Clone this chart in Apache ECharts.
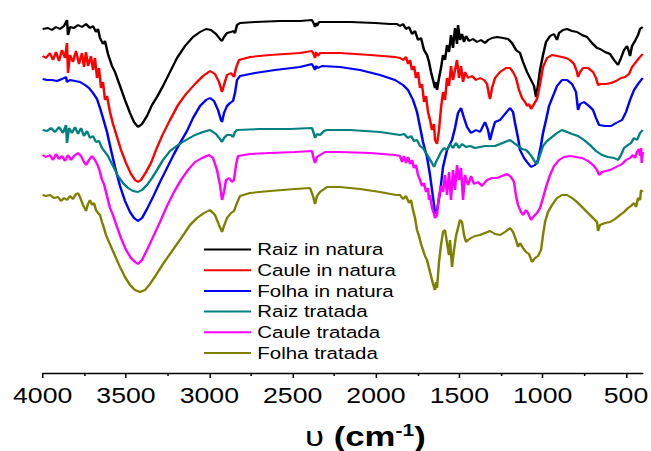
<!DOCTYPE html>
<html>
<head>
<meta charset="utf-8">
<script src="https://cdn.jsdelivr.net/npm/echarts@6/dist/echarts.min.js"></script>
<style>
  html, body { margin: 0; padding: 0; background: #fff; overflow: hidden; }
  /* the figure is drawn at a narrower width and stretched horizontally */
  #chart { width: 525px; height: 451px; transform: scaleX(1.24); transform-origin: 0 0; }
</style>
</head>
<body>
<div id="chart"></div>
<script>
// FTIR spectra: [wavenumber (cm-1), transmittance (a.u., offset per sample)]
const seriesNames = ['Raiz in natura', 'Caule in natura', 'Folha in natura', 'Raiz tratada', 'Caule tratada', 'Folha tratada'];
const seriesColors = ['#000000', '#ff0000', '#0000ff', '#008080', '#ff00ff', '#808000'];
const majorTicks = [4000, 3500, 3000, 2500, 2000, 1500, 1000, 500];
const minorTicks = [3750, 3250, 2750, 2250, 1750, 1250, 750];

const raizNatura = [
  [4000,344],[3968,345],[3944,343],[3920,346],[3896,344],[3872,347],[3854,353],[3848,338],[3836,346],[3812,345],
  [3788,348],[3764,346],[3740,349],[3716,345],[3698,347],[3680,341],[3668,344],[3656,335],[3638,329],[3626,332],
  [3608,319],[3596,313],[3584,307],[3566,301],[3536,287],[3506,273],[3476,260],[3452,251],[3428,246],[3404,249],
  [3374,257],[3344,268],[3314,276],[3278,287],[3236,301],[3194,315],[3146,327],[3098,336],[3056,341],[3020,344],
  [2990,343],[2960,339],[2936,334],[2924,332],[2912,336],[2894,340],[2870,341],[2858,342],[2846,340],[2834,348],
  [2816,350],[2726,351],[2576,352],[2456,352],[2384,353],[2372,349],[2366,346],[2360,350],[2354,347],[2342,351],
  [2276,351],[2156,351],[2006,350],[1916,349],[1874,349],[1856,347],[1838,349],[1820,344],[1802,346],[1784,339],
  [1766,342],[1748,333],[1730,335],[1712,323],[1694,318],[1682,311],[1670,301],[1658,293],[1646,285],[1640,291],
  [1634,283],[1622,295],[1610,305],[1598,318],[1586,313],[1574,328],[1562,321],[1550,338],[1538,325],[1526,345],
  [1514,329],[1508,348],[1496,333],[1484,339],[1472,331],[1460,337],[1442,332],[1418,334],[1394,331],[1370,333],
  [1346,330],[1328,333],[1304,335],[1274,336],[1238,335],[1208,334],[1184,330],[1160,323],[1136,320],[1118,311],
  [1094,301],[1070,293],[1052,287],[1040,276],[1028,288],[1016,303],[998,318],[980,331],[956,337],[932,339],
  [914,333],[902,340],[878,343],[854,344],[824,342],[794,341],[764,338],[734,336],[704,330],[674,325],
  [656,324],[626,321],[596,319],[572,313],[548,308],[530,315],[512,323],[494,327],[482,321],[476,317],
  [464,327],[446,332],[428,338],[416,344],[400,346]
];

const cauleNatura = [
  [4000,317],[3980,315],[3956,320],[3938,313],[3920,321],[3902,312],[3884,323],[3866,315],[3854,330],[3848,300],
  [3836,318],[3818,311],[3800,322],[3782,309],[3764,320],[3752,306],[3740,321],[3728,307],[3710,317],[3698,303],
  [3686,315],[3674,295],[3662,305],[3650,285],[3638,291],[3626,273],[3614,277],[3596,261],[3578,249],[3554,236],
  [3530,223],[3500,210],[3470,199],[3446,193],[3428,191],[3410,193],[3380,201],[3350,210],[3320,223],[3284,237],
  [3236,253],[3188,268],[3140,279],[3086,289],[3038,297],[2996,302],[2966,299],[2942,291],[2924,281],[2912,288],
  [2894,298],[2870,300],[2852,296],[2840,305],[2822,313],[2756,316],[2636,318],[2456,320],[2384,322],[2372,318],
  [2366,315],[2360,321],[2348,317],[2336,320],[2216,320],[2036,318],[1886,316],[1856,315],[1838,313],[1820,316],
  [1808,309],[1796,313],[1784,303],[1772,307],[1760,295],[1748,301],[1736,285],[1724,289],[1712,271],[1700,277],
  [1688,261],[1676,253],[1664,243],[1652,249],[1646,233],[1634,229],[1622,243],[1610,265],[1598,281],[1586,273],
  [1574,295],[1562,287],[1550,307],[1538,293],[1526,303],[1514,313],[1502,295],[1490,307],[1478,291],[1466,301],
  [1448,295],[1424,297],[1400,293],[1376,295],[1352,293],[1334,289],[1322,278],[1316,274],[1304,285],[1286,295],
  [1256,301],[1220,305],[1196,305],[1178,301],[1160,295],[1142,283],[1124,275],[1106,271],[1094,267],[1082,269],
  [1070,264],[1052,269],[1034,274],[1016,289],[998,306],[974,315],[944,318],[914,317],[884,316],[860,315],
  [836,313],[812,309],[794,301],[788,296],[776,301],[758,305],[728,305],[698,301],[680,295],[668,288],
  [650,289],[620,289],[590,290],[560,292],[530,295],[506,296],[482,299],[464,306],[440,311],[422,315],[400,319]
];

const folhaNatura = [
  [4000,294],[3974,293],[3944,293],[3914,292],[3884,294],[3860,296],[3854,291],[3836,293],[3806,292],[3776,291],
  [3746,288],[3722,285],[3698,280],[3674,274],[3656,265],[3638,255],[3614,241],[3590,223],[3566,206],[3536,187],
  [3506,172],[3476,161],[3452,155],[3428,152],[3404,155],[3374,164],[3338,176],[3296,191],[3254,205],[3212,219],
  [3176,230],[3134,242],[3098,255],[3056,267],[3020,273],[2996,275],[2972,272],[2948,263],[2930,253],[2924,251],
  [2912,260],[2894,267],[2876,270],[2858,272],[2846,280],[2834,293],[2816,297],[2726,300],[2606,303],[2456,306],
  [2384,309],[2372,305],[2366,303],[2360,307],[2348,305],[2324,307],[2216,306],[2096,303],[1976,298],[1886,293],
  [1838,288],[1808,283],[1778,273],[1754,261],[1736,246],[1718,231],[1694,216],[1676,198],[1664,183],[1652,168],
  [1646,159],[1634,163],[1616,180],[1598,206],[1574,223],[1544,233],[1526,245],[1508,260],[1490,265],[1472,255],
  [1454,246],[1430,240],[1400,243],[1376,241],[1346,251],[1328,243],[1316,233],[1304,241],[1286,251],[1256,253],
  [1226,259],[1196,265],[1178,261],[1166,250],[1148,235],[1136,223],[1112,215],[1094,211],[1070,206],[1046,208],
  [1028,213],[1010,228],[998,240],[980,253],[962,267],[938,277],[914,287],[884,293],[854,293],[824,289],
  [800,281],[788,263],[776,269],[752,271],[722,267],[698,263],[680,255],[662,248],[626,247],[590,247],
  [560,250],[524,253],[500,261],[476,273],[452,283],[428,289],[400,295]
];

const raizTratada = [
  [4000,243],[3974,242],[3950,245],[3926,241],[3902,246],[3878,240],[3860,248],[3854,230],[3842,245],[3824,240],
  [3806,246],[3788,239],[3770,245],[3752,237],[3734,242],[3716,235],[3698,237],[3680,231],[3662,232],[3644,225],
  [3626,221],[3608,217],[3590,211],[3572,205],[3548,197],[3518,190],[3488,185],[3458,182],[3428,181],[3404,183],
  [3374,188],[3344,195],[3314,203],[3278,213],[3236,222],[3188,228],[3140,233],[3086,238],[3038,241],[2996,243],
  [2960,239],[2936,234],[2924,231],[2912,235],[2894,238],[2870,238],[2858,236],[2846,241],[2834,243],[2696,244],
  [2516,244],[2384,245],[2372,239],[2366,235],[2354,239],[2336,238],[2312,242],[2294,243],[2156,243],[1976,241],
  [1856,238],[1832,239],[1808,235],[1790,237],[1772,232],[1754,233],[1736,227],[1718,225],[1700,220],[1682,215],
  [1664,210],[1652,206],[1640,211],[1628,215],[1610,221],[1592,225],[1574,223],[1556,229],[1538,225],[1520,230],
  [1502,225],[1484,229],[1460,226],[1436,227],[1406,225],[1376,226],[1346,227],[1316,227],[1286,227],[1256,229],
  [1226,231],[1196,233],[1172,230],[1148,227],[1124,224],[1100,223],[1082,220],[1064,216],[1046,211],[1034,209],
  [1016,218],[998,227],[974,232],[944,236],[914,240],[884,243],[854,241],[824,239],[788,237],[752,233],
  [716,228],[680,222],[644,218],[608,216],[572,215],[548,213],[530,218],[512,225],[488,228],[470,230],
  [452,235],[434,233],[416,240],[400,243]
];

const cauleTratada = [
  [4000,218],[3980,216],[3956,218],[3938,213],[3920,219],[3902,214],[3884,217],[3866,212],[3848,218],[3830,213],
  [3812,217],[3788,220],[3770,217],[3752,211],[3740,208],[3722,213],[3704,217],[3686,213],[3668,207],[3656,201],
  [3644,193],[3632,189],[3620,181],[3608,173],[3596,165],[3578,158],[3554,146],[3530,135],[3500,123],[3470,115],
  [3446,111],[3428,109],[3404,113],[3374,123],[3338,136],[3296,151],[3254,167],[3212,181],[3170,193],[3128,203],
  [3086,211],[3044,215],[3002,218],[2978,215],[2954,203],[2936,188],[2924,173],[2912,181],[2900,193],[2882,195],
  [2864,191],[2852,193],[2840,208],[2828,217],[2756,219],[2636,220],[2486,221],[2384,222],[2372,213],[2366,210],
  [2354,216],[2336,218],[2306,221],[2216,221],[2036,220],[1886,218],[1856,217],[1844,211],[1832,217],[1820,210],
  [1808,216],[1796,209],[1784,213],[1772,205],[1760,208],[1748,198],[1736,193],[1724,187],[1712,190],[1700,181],
  [1688,185],[1682,173],[1676,178],[1664,165],[1652,159],[1646,155],[1634,158],[1622,177],[1610,187],[1598,181],
  [1586,198],[1574,178],[1562,201],[1550,173],[1538,203],[1526,183],[1514,208],[1502,193],[1490,205],[1478,173],
  [1466,198],[1448,188],[1430,197],[1412,189],[1388,191],[1364,187],[1334,193],[1304,195],[1274,195],[1244,197],
  [1214,199],[1190,196],[1172,191],[1160,177],[1148,168],[1130,161],[1118,158],[1100,163],[1088,160],[1070,153],
  [1052,157],[1034,160],[1016,165],[998,175],[980,186],[956,198],[932,207],[902,213],[872,216],[836,217],
  [800,216],[764,215],[728,212],[698,208],[674,203],[662,198],[644,201],[620,202],[596,203],[572,205],
  [548,207],[524,209],[500,213],[476,215],[458,218],[446,215],[434,221],[422,224],[416,217],[410,225],
  [406,210],[400,221]
];

const folhaTratada = [
  [4000,178],[3980,177],[3956,178],[3932,175],[3908,176],[3890,172],[3872,175],[3854,173],[3836,177],[3818,174],
  [3800,179],[3788,180],[3776,176],[3758,168],[3740,162],[3728,169],[3716,173],[3704,168],[3692,170],[3680,163],
  [3668,160],[3656,158],[3644,151],[3632,145],[3620,138],[3602,131],[3584,124],[3560,115],[3536,106],[3506,96],
  [3476,88],[3446,83],[3416,81],[3386,83],[3356,89],[3320,98],[3278,109],[3236,119],[3194,129],[3152,139],
  [3116,148],[3074,155],[3032,160],[2996,163],[2966,158],[2942,148],[2924,141],[2912,147],[2894,155],[2870,160],
  [2852,162],[2834,170],[2816,177],[2756,180],[2636,182],[2486,184],[2396,185],[2378,177],[2366,169],[2354,177],
  [2336,181],[2294,186],[2216,186],[2096,184],[1976,181],[1880,178],[1856,178],[1838,174],[1820,177],[1802,170],
  [1790,173],[1778,163],[1766,155],[1754,143],[1742,137],[1730,129],[1718,123],[1706,117],[1694,113],[1682,105],
  [1670,97],[1658,89],[1646,83],[1640,91],[1634,85],[1622,111],[1610,128],[1598,141],[1586,143],[1574,130],
  [1562,118],[1556,133],[1544,106],[1532,123],[1520,137],[1508,145],[1496,153],[1484,151],[1472,138],[1460,131],
  [1448,133],[1430,135],[1406,137],[1376,138],[1346,140],[1316,142],[1286,139],[1256,138],[1226,141],[1196,145],
  [1178,141],[1160,133],[1148,126],[1136,130],[1118,125],[1100,121],[1082,119],[1064,111],[1046,115],[1028,117],
  [1010,123],[998,138],[986,151],[968,161],[944,168],[914,175],[884,178],[854,178],[824,175],[794,171],
  [764,166],[734,161],[704,156],[674,151],[668,142],[656,148],[626,150],[596,151],[566,154],[536,158],
  [512,161],[488,165],[470,167],[452,170],[440,166],[428,175],[416,173],[410,183],[400,181]
];

const spectra = [raizNatura, cauleNatura, folhaNatura, raizTratada, cauleTratada, folhaTratada];

const FONT = '"Liberation Sans", Arial, sans-serif';
const chart = echarts.init(document.getElementById('chart'), null, { renderer: 'svg' });

chart.setOption({
  backgroundColor: '#ffffff',
  animation: false,
  grid: { left: 34.4, right: 6.7, top: 0, bottom: 78, containLabel: false, outerBoundsMode: 'none' },
  legend: {
    orient: 'vertical',
    left: 159.5,
    top: 236,
    itemWidth: 38,
    itemHeight: 14,
    itemGap: 3.7,
    icon: 'path://M0,6 L38,6 L38,8 L0,8 Z',
    data: seriesNames,
    textStyle: { fontFamily: FONT, fontSize: 16.5, color: '#000' }
  },
  xAxis: [
    {
      type: 'value',
      inverse: true,
      min: 400,
      max: 4000,
      position: 'bottom',
      axisLine: { show: true, onZero: false, lineStyle: { color: '#000', width: 1.3 } },
      axisTick: { show: true, inside: false, length: 5, customValues: majorTicks, lineStyle: { color: '#000', width: 1.2 } },
      axisLabel: {
        show: true, customValues: majorTicks, margin: 11,
        fontFamily: FONT, fontSize: 21.5, color: '#000',
        formatter: (v) => String(v)
      },
      splitLine: { show: false }
    },
    {
      type: 'value',
      inverse: true,
      min: 400,
      max: 4000,
      position: 'bottom',
      axisLine: { show: false },
      axisTick: { show: true, inside: false, length: 3, customValues: minorTicks, lineStyle: { color: '#000', width: 1.2 } },
      axisLabel: { show: false },
      splitLine: { show: false }
    }
  ],
  yAxis: {
    type: 'value',
    min: 0,
    max: 373,
    show: false,
    splitLine: { show: false }
  },
  series: seriesNames.map((name, i) => ({
    name: name,
    type: 'line',
    xAxisIndex: 0,
    data: spectra[i],
    symbol: 'none',
    color: seriesColors[i],
    lineStyle: { color: seriesColors[i], width: 2 },
    z: 2
  })),
  graphic: [{
    type: 'text',
    left: 246,
    top: 422,
    style: {
      text: '{u|υ}{a| (cm}{s|-1}{a|)}',
      rich: {
        u: { fontFamily: FONT, fontSize: 28, fontWeight: 'normal', fill: '#000', verticalAlign: 'bottom' },
        a: { fontFamily: FONT, fontSize: 28, fontWeight: 'bold', fill: '#000', verticalAlign: 'bottom' },
        s: { fontFamily: FONT, fontSize: 17, fontWeight: 'bold', fill: '#000', padding: [0, 0, 11, 0], verticalAlign: 'bottom' }
      }
    }
  }]
});
</script>
</body>
</html>
